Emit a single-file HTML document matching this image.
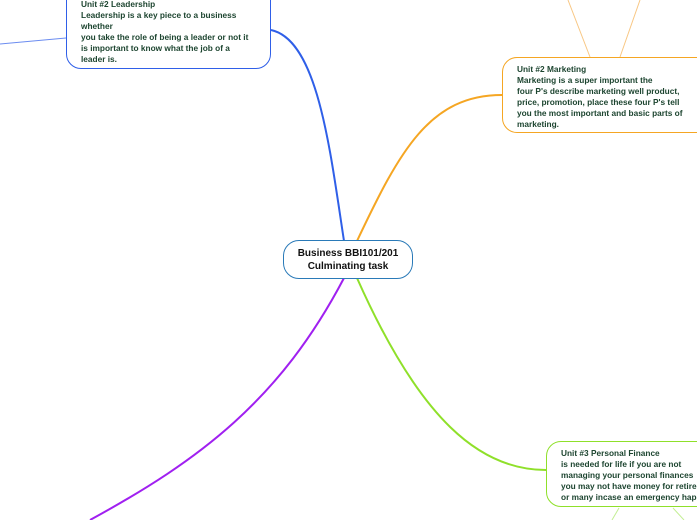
<!DOCTYPE html>
<html><head><meta charset="utf-8"><style>
body{margin:0;width:697px;height:520px;overflow:hidden;background:#fff;position:relative;font-family:"Liberation Sans","DejaVu Sans",sans-serif}
.b{position:absolute;background:#fff;border-radius:15px;box-sizing:border-box;font-size:8px;font-weight:bold;color:#1d4530;line-height:11px;white-space:nowrap}
svg{position:absolute;left:0;top:0}
</style></head><body>
<svg width="697" height="520">
<g fill="none">
<path d="M344,241 C330,150 318,40 271,30" stroke="#2f5fe8" stroke-width="2"/>
<path d="M66,38 L0,44" stroke="#6b8cf0" stroke-width="1"/>
<path d="M357,241 C400,150 430,95 502,95" stroke="#f5a623" stroke-width="2"/>
<path d="M590,57 L568,0 M620,57 L640,0" stroke="#f8c784" stroke-width="1"/>
<path d="M357,278 C420,420 480,470 546,470" stroke="#8fe02a" stroke-width="2"/>
<path d="M619,508 L612,520 M673,508 L684,520" stroke="#c3ee94" stroke-width="1"/>
<path d="M344,278 C280,400 200,460 90,520" stroke="#a020f0" stroke-width="2"/>
</g>
</svg>
<div class="b" style="left:66px;top:-15px;width:205px;height:84px;border:1.5px solid #2f5fe8;padding:13px 0 0 14px;font-size:8.3px">Unit #2 Leadership<br>Leadership is a key piece to a business<br>whether<br>you take the role of being a leader or not it<br>is important to know what the job of a<br>leader is.</div>
<div class="b" style="left:502px;top:57px;width:210px;height:76px;border:1.5px solid #f5a623;padding:6px 0 0 14px;font-size:8.3px">Unit #2 Marketing<br>Marketing is a super important the<br>four P's describe marketing well product,<br>price, promotion, place these four P's tell<br>you the most important and basic parts of<br>marketing.</div>
<div class="b" style="left:546px;top:441px;width:170px;height:66px;border:1.5px solid #8fe02a;padding:6px 0 0 14px;font-size:8.3px">Unit #3 Personal Finance<br>is needed for life if you are not<br>managing your personal finances<br>you may not have money for retirement<br>or many incase an emergency happens</div>
<div class="b" style="left:283px;top:240px;width:130px;height:39px;border:1.5px solid #2a7ab8;border-radius:16px;font-size:10px;line-height:13px;color:#111;text-align:center;padding-top:6px">Business BBI101/201<br>Culminating task</div>
</body></html>
